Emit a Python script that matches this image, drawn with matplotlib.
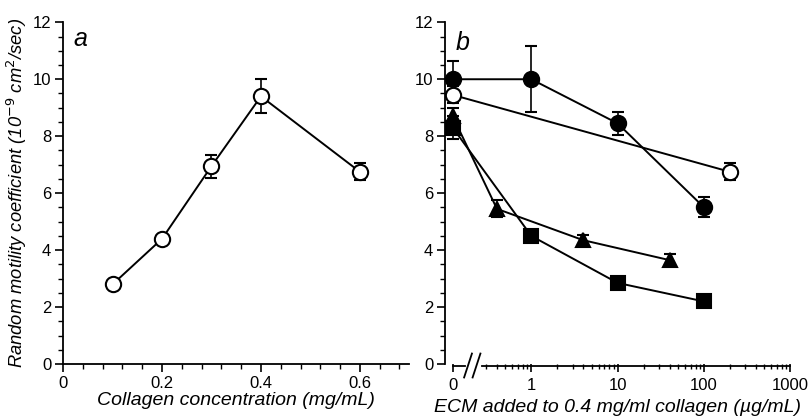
import numpy as np
import matplotlib
matplotlib.use("Agg")
import matplotlib.pyplot as plt
from matplotlib.ticker import FixedLocator, MultipleLocator
import matplotlib.transforms as mtransforms

plt.rcParams['font.family'] = ['Liberation Sans', 'DejaVu Sans']

# panel a: collagen concentration
conc = [0.1, 0.2, 0.3, 0.4, 0.6]
conc_rmc = [2.8, 4.4, 6.95, 9.4, 6.75]
conc_err = [0.1, 0.12, 0.4, 0.6, 0.3]

# panel b: ECM added (0 = no ECM)
filled_circ_x = [0, 1, 10, 100]
filled_circ_y = [10.0, 10.0, 8.45, 5.5]
filled_circ_err = [0.65, 1.15, 0.4, 0.35]

open_circ_x = [0, 200]
open_circ_y = [9.45, 6.75]
open_circ_err = [0.3, 0.3]

tri_x = [0, 0.4, 4, 40]
tri_y = [8.7, 5.45, 4.35, 3.65]
tri_err = [0.3, 0.3, 0.2, 0.2]

sq_x = [0, 1, 10, 100]
sq_y = [8.3, 4.5, 2.85, 2.2]
sq_err = [0.4, 0.1, 0.1, 0.1]

ZERO_POS = 0.123  # where "0" sits on the log axis


def pos(xs):
    return [ZERO_POS if v == 0 else v for v in xs]


fig = plt.figure(figsize=(8.09, 4.2), dpi=100)
ax1 = fig.add_axes([0.078, 0.133, 0.428, 0.814])
ax2 = fig.add_axes([0.550, 0.133, 0.427, 0.814])

for ax in (ax1, ax2):
    ax.spines['top'].set_visible(False)
    ax.spines['right'].set_visible(False)
    ax.spines['left'].set_linewidth(1.3)
    ax.spines['bottom'].set_linewidth(1.3)
    ax.set_ylim(0, 12)
    ax.yaxis.set_major_locator(MultipleLocator(2))
    ax.yaxis.set_minor_locator(MultipleLocator(0.5))
    ax.tick_params(which='major', direction='out', length=6, width=1.2, labelsize=12, pad=2.5)
    ax.tick_params(which='minor', direction='out', length=3.5, width=1.0)

mk = dict(color='black', lw=1.4, capsize=4, capthick=1.2, elinewidth=1.2,
          markeredgecolor='black', markeredgewidth=1.5)

# panel a
ax1.errorbar(conc, conc_rmc, yerr=conc_err, fmt='-o', markersize=11,
             markerfacecolor='white', **mk)
ax1.set_xlim(0, 0.7)
ax1.set_xticks([0, 0.2, 0.4, 0.6])
ax1.set_xticklabels(['0', '0.2', '0.4', '0.6'])
ax1.xaxis.set_minor_locator(MultipleLocator(0.04))
ax1.set_xlabel('Collagen concentration (mg/mL)', fontstyle='italic', fontsize=14, labelpad=1)
ax1.set_ylabel('Random motility coefficient (10$^{-9}$ cm$^2$/sec)',
               fontstyle='italic', fontsize=13.2, labelpad=3)
ax1.text(0.03, 0.985, 'a', transform=ax1.transAxes, fontsize=18,
         fontstyle='italic', va='top', ha='left')

# panel b
ax2.set_xscale('log')
ax2.set_xlim(0.1, 1000)
ax2.errorbar(pos(open_circ_x), open_circ_y, yerr=open_circ_err, fmt='-o',
             markersize=11, markerfacecolor='white', **mk)
ax2.errorbar(pos(filled_circ_x), filled_circ_y, yerr=filled_circ_err, fmt='-o',
             markersize=11, markerfacecolor='black', **mk)
ax2.errorbar(pos(tri_x), tri_y, yerr=tri_err, fmt='-^',
             markersize=10, markerfacecolor='black', **mk)
ax2.errorbar(pos(sq_x), sq_y, yerr=sq_err, fmt='-s',
             markersize=10, markerfacecolor='black', **mk)

ax2.xaxis.set_major_locator(FixedLocator([ZERO_POS, 1, 10, 100, 1000]))
ax2.set_xticklabels(['0', '1', '10', '100', '1000'])
ax2.tick_params(axis='x', which='major', pad=4)
minor = [m * d for d in (0.1, 1, 10, 100) for m in range(2, 10)]
minor = [v for v in minor if v > 0.25]
ax2.xaxis.set_minor_locator(FixedLocator(minor))
ax2.spines['bottom'].set_visible(False)
ax2.set_xlabel('ECM added to 0.4 mg/ml collagen (\u00b5g/mL)', fontstyle='italic',
               fontsize=14, labelpad=4)
ax2.text(0.03, 0.975, 'b', transform=ax2.transAxes, fontsize=18,
         fontstyle='italic', va='top', ha='left')

# broken x axis line
tr = mtransforms.blended_transform_factory(ax2.transData, ax2.transAxes)
yb = -0.004
ax2.plot([ZERO_POS, 0.17], [yb, yb], color='black', lw=1.3, transform=tr, clip_on=False)
ax2.plot([0.27, 1000], [yb, yb], color='black', lw=1.3, transform=tr, clip_on=False)
for x0 in (0.185, 0.232):
    ax2.plot([x0 / 1.11, x0 * 1.11], [yb - 0.035, yb + 0.035], color='black', lw=1.3,
             transform=tr, clip_on=False)

fig.savefig('out.png', dpi=100)
